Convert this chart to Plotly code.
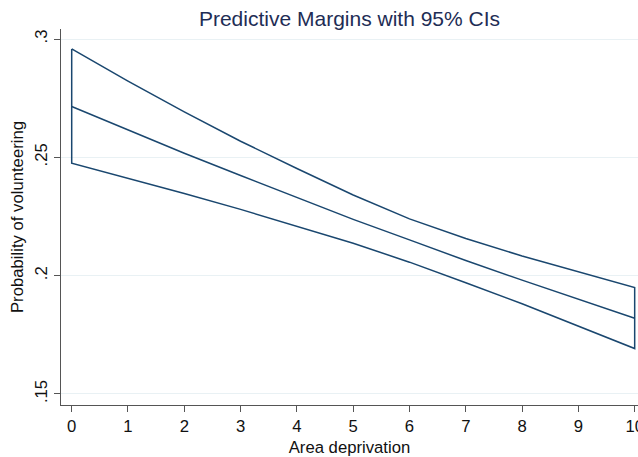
import plotly.graph_objects as go

# Predicted probability of volunteering by area deprivation, with 95% CI
deprivation = [0, 1, 2, 3, 4, 5, 6, 7, 8, 9, 10]
margin = [0.2715, 0.2615, 0.2517, 0.2423, 0.2330, 0.2238, 0.2151, 0.2064, 0.1981, 0.1901, 0.1820]
ci_upper = [0.2958, 0.2822, 0.2692, 0.2568, 0.2453, 0.2341, 0.2240, 0.2157, 0.2083, 0.2016, 0.1950]
ci_lower = [0.2475, 0.2412, 0.2347, 0.2280, 0.2209, 0.2137, 0.2057, 0.1970, 0.1881, 0.1787, 0.1692]

y_tickvals = [0.15, 0.20, 0.25, 0.30]
y_ticktext = [".15", ".2", ".25", ".3"]
x_tickvals = list(range(0, 11))

navy = "#1a476f"
font_family = "Liberation Sans, Arial, sans-serif"
label_size = 16.7

fig = go.Figure()

# CI band drawn as an unfilled outline: upper bound forward, lower bound back
ci_x = deprivation + deprivation[::-1] + [deprivation[0]]
ci_y = ci_upper + ci_lower[::-1] + [ci_upper[0]]
fig.add_trace(go.Scatter(
    x=ci_x, y=ci_y, mode="lines",
    line=dict(color=navy, width=1.5),
    hoverinfo="skip", showlegend=False,
))

fig.add_trace(go.Scatter(
    x=deprivation, y=margin, mode="lines",
    line=dict(color=navy, width=1.5),
    showlegend=False,
))

fig.update_layout(
    width=638, height=457,
    margin=dict(l=61, r=0, t=29.3, b=52.3, pad=0, autoexpand=False),
    paper_bgcolor="white", plot_bgcolor="white",
    font=dict(family=font_family, size=label_size, color="#111111"),
    title=dict(
        text="Predictive Margins with 95% CIs",
        x=0.5, xref="paper", xanchor="center",
        y=1 - 18.5 / 457, yref="container", yanchor="middle",
        font=dict(family=font_family, size=21, color="#1e2d55"),
    ),
    xaxis=dict(
        range=[-0.190, 10.059],
        automargin=False,
        tickmode="array", tickvals=x_tickvals,
        ticks="outside", ticklen=6, tickwidth=1.2, tickcolor="#555555",
        ticklabeloverflow="allow",
        showline=True, linecolor="#555555", linewidth=1.3,
        showgrid=False, zeroline=False,
        tickfont=dict(size=label_size, color="#111111"),
        title=dict(text="Area deprivation", standoff=8,
                   font=dict(size=label_size, color="#111111")),
    ),
    yaxis=dict(
        range=[0.145344, 0.30423],
        automargin=False,
        tickmode="array", tickvals=y_tickvals, ticktext=y_ticktext,
        tickangle=-90,
        ticks="outside", ticklen=6, tickwidth=1.2, tickcolor="#555555",
        showline=True, linecolor="#555555", linewidth=1.3,
        showgrid=True, gridcolor="#e9f1f4", gridwidth=1.3,
        zeroline=False,
        tickfont=dict(size=label_size, color="#111111"),
        title=dict(text="Probability of volunteering", standoff=4,
                   font=dict(size=label_size, color="#111111")),
    ),
)

fig.write_html("out.html")
